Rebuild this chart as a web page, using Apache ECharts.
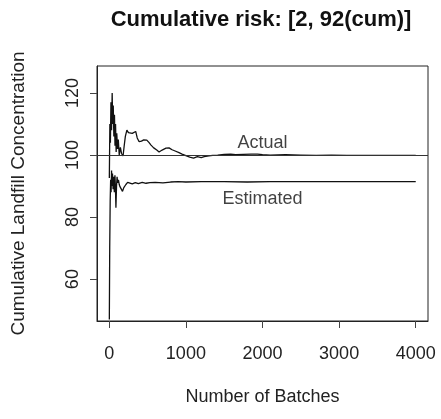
<!DOCTYPE html>
<html><head><meta charset="utf-8">
<script src="https://cdn.jsdelivr.net/npm/echarts@6/dist/echarts.min.js"></script>
<style>html,body{margin:0;padding:0;background:#fff}#c{width:441px;height:419px}</style>
</head><body><div id="c"></div>
<script>
const titleText = 'Cumulative risk: [2, 92(cum)]';
const xName = 'Number of Batches';
const yName = 'Cumulative Landfill Concentration';
const xTicks = [0, 1000, 2000, 3000, 4000];
const yTicks = [60, 80, 100, 120];
const xRange = [-160, 4160];
const yRange = [46.5, 128.7];
const refLine = 100;
const actual = [[1,92.6],[8,110],[15,104],[22,117],[30,108],[38,120],[45,110],[52,116],[60,106],[68,113],[75,103],[82,110],[90,101],[98,107],[108,102],[118,105],[130,100],[145,102.5],[160,100.5],[180,99.7],[195,103],[210,106],[230,108],[250,107.2],[275,107.6],[300,107],[325,107.3],[345,107.6],[365,105.5],[390,104.3],[420,104.5],[450,104.9],[490,104.8],[520,104],[545,103.2],[580,102.3],[620,101.6],[650,101],[690,101.6],[740,102.2],[780,102.3],[820,101.7],[860,101.3],[910,100.8],[950,100.3],[1000,99.8],[1050,99.3],[1100,99.0],[1150,99.5],[1200,99.2],[1240,99.5],[1300,99.7],[1350,99.9],[1415,100.0],[1500,100.2],[1585,100.3],[1650,100.1],[1750,100.2],[1850,100.3],[1935,100.3],[2000,100.1],[2100,100.0],[2300,100.1],[2500,100.0],[2700,99.9],[2900,100.0],[3100,99.9],[3400,99.9],[3700,99.9],[4000,99.9]];
const estimated = [[1,47],[6,70],[12,85],[18,92],[24,88],[30,95],[35,90],[42,94],[50,89],[58,93],[66,88],[74,93.5],[80,90],[87,83],[95,90],[102,93],[110,91],[120,92],[130,90.5],[140,89.8],[155,89.5],[173,88.3],[190,89.5],[217,90.5],[240,91.2],[260,91],[300,90.7],[340,91.1],[380,90.8],[430,91.2],[480,90.9],[530,91.1],[600,91.2],[700,91.0],[800,91.3],[900,91.4],[1000,91.3],[1200,91.4],[1500,91.4],[1800,91.3],[2100,91.4],[2500,91.4],[3000,91.4],[3500,91.4],[4000,91.4]];
const seriesLabels = ['Actual', 'Estimated'];
const labelAnchors = [[2000, 103.8], [2000, 85.8]];

const FONT = 'Liberation Sans, Arial, sans-serif';
const chart = echarts.init(document.getElementById('c'), null, {renderer: 'canvas'});
chart.setOption({
  animation: false,
  backgroundColor: '#fff',
  title: {text: titleText, left: 256, top: 4, textAlign: 'center',
    textStyle: {fontFamily: FONT, fontSize: 22, fontWeight: 'bold', color: '#111'}},
  grid: {left: 97, right: 13, top: 66, bottom: 98, show: true, borderColor: '#222', borderWidth: 1, backgroundColor: 'transparent'},
  xAxis: {type: 'value', min: xRange[0], max: xRange[1],
    name: xName, nameLocation: 'middle', nameGap: 67,
    nameTextStyle: {fontFamily: FONT, fontSize: 18, color: '#222'},
    axisLine: {show: true, onZero: false, lineStyle: {color: '#222', width: 1}},
    axisTick: {show: true, inside: false, length: 7, customValues: xTicks, lineStyle: {color: '#444'}},
    axisLabel: {customValues: xTicks, margin: 24, formatter: v => String(v), fontFamily: FONT, fontSize: 18, color: '#222'},
    splitLine: {show: false}},
  yAxis: {type: 'value', min: yRange[0], max: yRange[1],
    name: yName, nameLocation: 'middle', nameGap: 69, nameRotate: 90,
    nameTextStyle: {fontFamily: FONT, fontSize: 19, color: '#222'},
    axisLine: {show: true, onZero: false, lineStyle: {color: '#222', width: 1}},
    axisTick: {show: true, inside: false, length: 7, customValues: yTicks, lineStyle: {color: '#444'}},
    axisLabel: {customValues: yTicks, rotate: 90, margin: 15, formatter: v => String(v), fontFamily: FONT, fontSize: 18, color: '#222'},
    splitLine: {show: false}},
  series: [
    {type: 'line', name: seriesLabels[0], data: actual, showSymbol: false, symbol: 'none',
     lineStyle: {color: '#111', width: 1.3},
     markLine: {silent: true, symbol: 'none', label: {show: false},
       lineStyle: {color: '#333', width: 1, type: 'solid'}, data: [{yAxis: refLine}]}},
    {type: 'line', name: seriesLabels[1], data: estimated, showSymbol: false, symbol: 'none',
     lineStyle: {color: '#111', width: 1.3}},
    {type: 'scatter', symbolSize: 0, silent: true,
     data: labelAnchors.map((p, i) => ({value: p, name: seriesLabels[i]})),
     label: {show: true, position: 'inside', formatter: p => p.name,
       fontFamily: FONT, fontSize: 18, color: '#111'}}
  ]
});
</script></body></html>
